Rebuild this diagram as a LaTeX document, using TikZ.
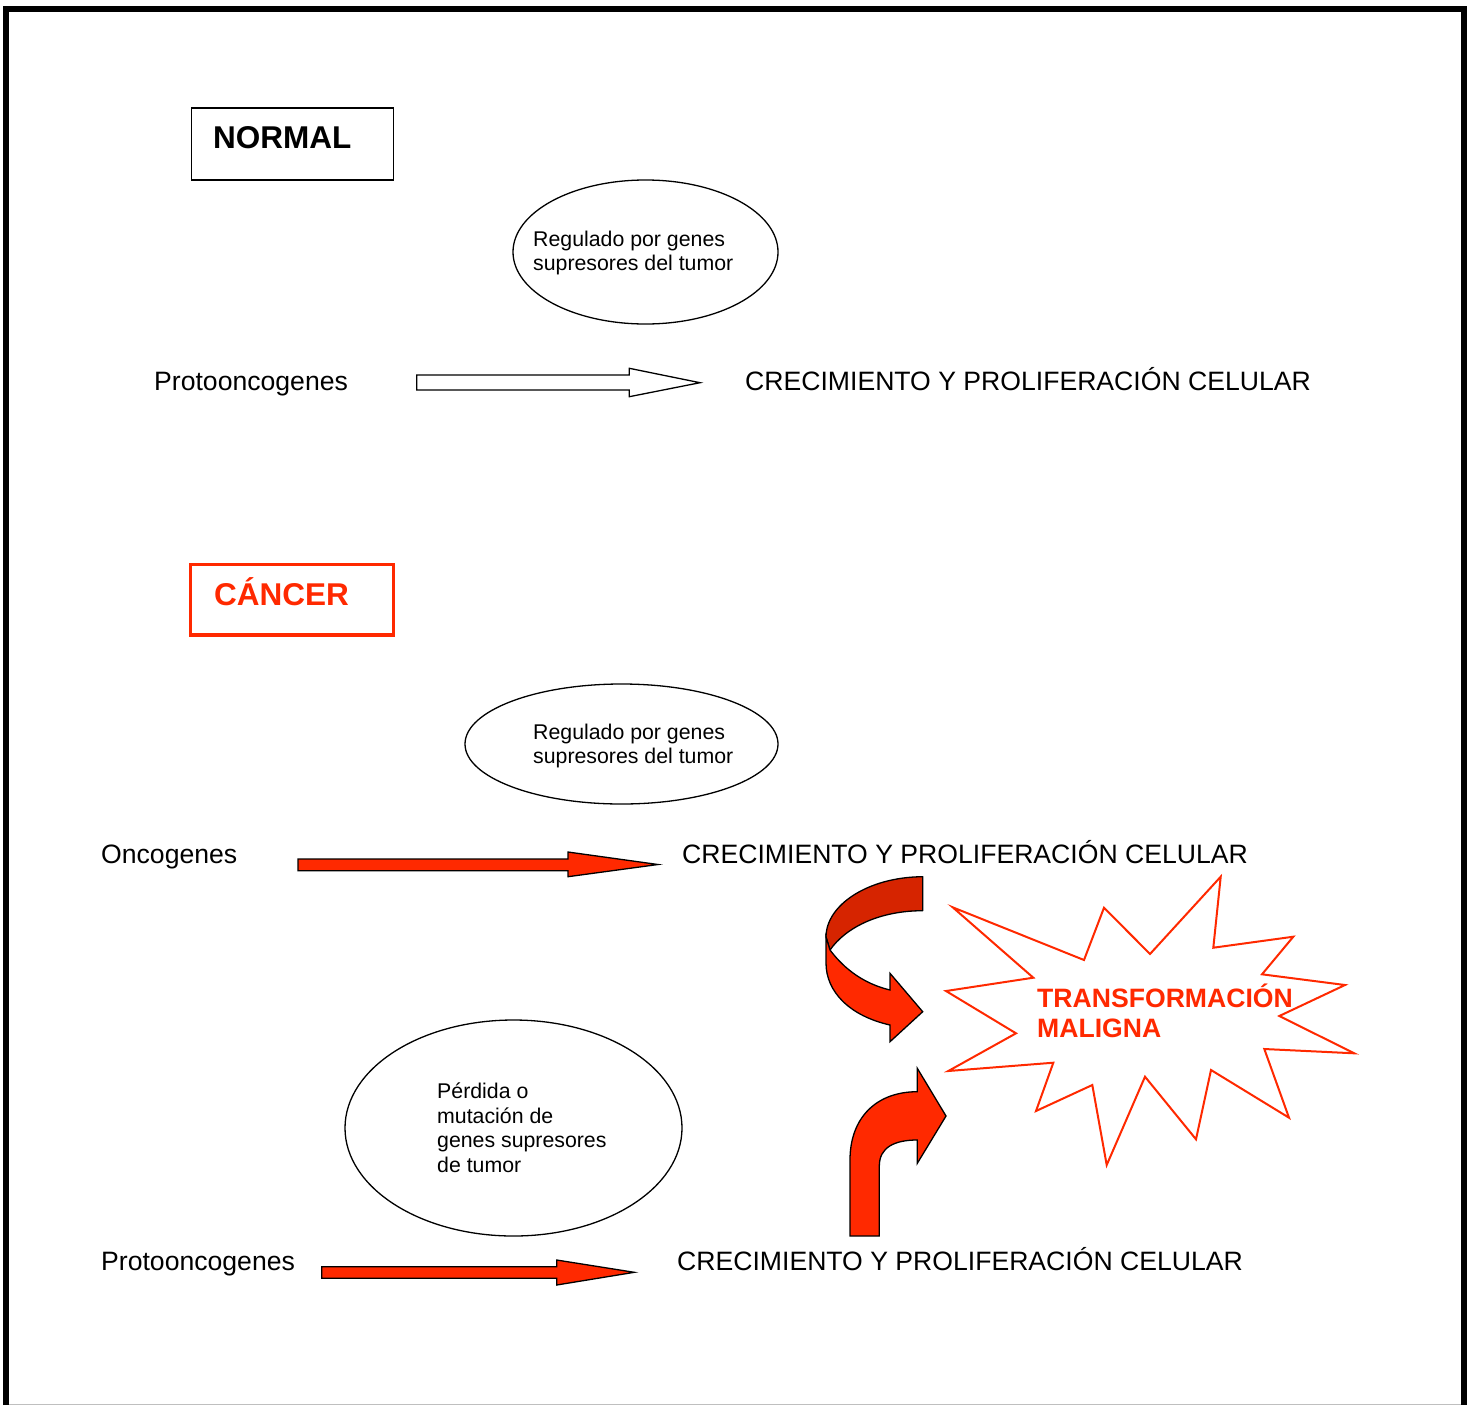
\documentclass[tikz,border=0pt]{standalone}
\usepackage{fontspec}
\setmainfont{Liberation Sans}
\usetikzlibrary{shapes.geometric}
\definecolor{mred}{RGB}{255,41,0}
\definecolor{dred}{RGB}{214,36,0}
\begin{document}
\begin{tikzpicture}[x=1pt,y=-1pt,
  lbl/.style={anchor=base west, inner sep=0pt, font=\fontsize{26.6}{30}\selectfont},
  small/.style={anchor=north west, inner sep=0pt, align=left, font=\fontsize{21.3}{24.7}\selectfont},
  oval/.style={draw, ellipse, line width=1.3pt, inner sep=0pt},
  blockw/.style={draw, line width=1.3pt, fill=white, line join=miter},
  blockr/.style={draw, line width=1.3pt, fill=mred, line join=miter},
  title/.style={anchor=base west, inner sep=0pt, font=\fontsize{31.5}{36}\selectfont\bfseries}
]
\useasboundingbox (0,0) rectangle (1471,1405);
% frame
\draw[line width=6pt] (6,1405) -- (6,9) -- (1464,9) -- (1464,1405);
\draw[gray!50, line width=1pt] (9,1404) -- (1461,1404);

% ---------- NORMAL ----------
\node[draw, line width=1.3pt, minimum width=202pt, minimum height=72pt, inner sep=0pt] (normalbox) at (292.5,144) {};
\node[title] (normal) at (213,148.5) {NORMAL};

\node[oval, minimum width=265pt, minimum height=144pt] (e1) at (645.5,252) {};
\node[small] (t1) at (533,230.5) {Regulado por genes\\supresores del tumor};

\node[lbl] (p1) at (154,390.3) {Protooncogenes};
\node[lbl] (c1) at (745,390.3) {CRECIMIENTO Y PROLIFERACIÓN CELULAR};
\draw[blockw] (416.7,375) -- (629.3,375) -- (629.3,368.3) -- (700,382.7) -- (629.3,396.7) -- (629.3,390) -- (416.7,390) -- cycle;

% ---------- CANCER ----------
\node[draw=mred, line width=3.3pt, minimum width=202.6pt, minimum height=70.7pt, inner sep=0pt] (cancerbox) at (292,599.6) {};
\node[title, text=mred] (cancer) at (214,605) {CÁNCER};

\node[oval, minimum width=313pt, minimum height=120pt] (e2) at (621.5,744) {};
\node[small] (t2) at (533,723.5) {Regulado por genes\\supresores del tumor};

\node[lbl] (o2) at (101,863.3) {Oncogenes};
\node[lbl] (c2) at (682,863.3) {CRECIMIENTO Y PROLIFERACIÓN CELULAR};
\draw[blockr] (298,859) -- (568,859) -- (568,852) -- (658,864.5) -- (568,876.7) -- (568,870.7) -- (298,870.7) -- cycle;

\node[oval, minimum width=337pt, minimum height=216pt] (e3) at (513.5,1128) {};
\node[small] (t3) at (437,1082.5) {Pérdida o\\mutación de\\genes supresores\\de tumor};

\node[lbl] (p3) at (101,1270.3) {Protooncogenes};
\node[lbl] (c3) at (677,1270.3) {CRECIMIENTO Y PROLIFERACIÓN CELULAR};
\draw[blockr] (321.7,1266.7) -- (556.7,1266.7) -- (556.7,1260) -- (634.3,1272.3) -- (556.7,1285) -- (556.7,1278.3) -- (321.7,1278.3) -- cycle;

% star
\draw[mred, line width=2pt, fill=white, line join=miter] (952.7,907.3) -- (1084,960) -- (1104,907.7) -- (1150,954) -- (1220.7,876.7) -- (1213.3,947.7) -- (1293.3,936.7) -- (1262,974.3) -- (1345,985) -- (1279.3,1016) -- (1354.3,1053.3) -- (1264.3,1049) -- (1289,1117.7) -- (1211,1070) -- (1196,1139.3) -- (1145,1076.7) -- (1106.7,1165) -- (1092.3,1085) -- (1036,1111) -- (1053.3,1062.7) -- (948.3,1071) -- (1016,1033.3) -- (946,991) -- (1033.3,977.7) -- cycle;
\node[anchor=north west, inner sep=0pt, align=left, text=mred, font=\fontsize{26.6}{30}\selectfont\bfseries] (tm) at (1037,984) {TRANSFORMACIÓN\\MALIGNA};

% curved arrow (top)
\draw[line width=1.3pt, fill=dred, line join=round] (922.7,876.7) .. controls (868,877) and (826,905) .. (826,937) -- (830,950) .. controls (846,927) and (880,910.7) .. (922.7,910.7) -- cycle;
\draw[line width=1.3pt, fill=mred, line join=miter] (826,937) -- (830,950) .. controls (845,970) and (865,984) .. (890,990) -- (890,973.3) -- (922.7,1011.7) -- (890,1041.7) -- (890,1025) .. controls (850,1016) and (826,992) .. (826,963) -- cycle;

% curved arrow (bottom)
\draw[line width=1.3pt, fill=mred, line join=miter] (850,1236) -- (850,1160) .. controls (850,1118) and (876,1091.7) .. (917.3,1091.7) -- (917.3,1068.3) -- (946,1116) -- (917.3,1163.3) -- (917.3,1140) .. controls (895,1140) and (879.3,1147) .. (879.3,1166) -- (879.3,1236) -- cycle;
\end{tikzpicture}
\end{document}
